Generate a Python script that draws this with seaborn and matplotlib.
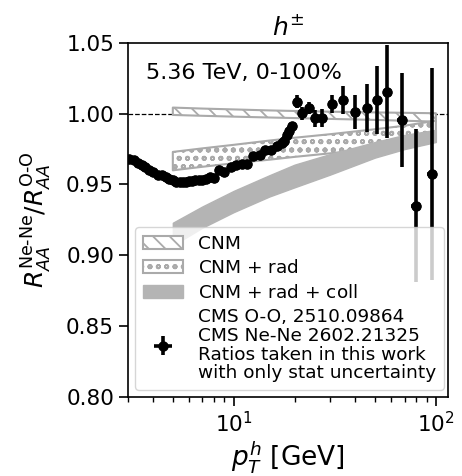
import numpy as np
import pandas as pd
import matplotlib
matplotlib.use("Agg")
import matplotlib.pyplot as plt
import seaborn as sns

# ---- data ----
pt = [3.05, 3.2, 3.35, 3.5, 3.65, 3.8, 4.0, 4.2, 4.4, 4.6, 4.8, 5.0, 5.2, 5.4, 5.6,
      5.8, 6.0, 6.2, 6.4, 6.7, 7.0, 7.3, 7.6, 8.0, 8.5, 9.0, 9.7, 10.3, 11.0, 11.6,
      12.5, 13.5, 14.3, 15.3, 16.3, 17.3, 17.8, 18.3, 18.8, 19.4,
      20.5, 21.7, 23.5, 25.3, 27.3, 30.6, 34.7, 40.0, 45.7, 51.3, 57.5, 67.8, 79.5, 95.5]
ratio = [0.968, 0.967, 0.9655, 0.964, 0.962, 0.960, 0.9585, 0.957, 0.9565, 0.9555,
         0.954, 0.953, 0.952, 0.952, 0.9515, 0.952, 0.9525, 0.9525, 0.953, 0.953,
         0.9535, 0.954, 0.955, 0.9545, 0.960, 0.959, 0.9625, 0.964, 0.9645, 0.9645,
         0.970, 0.971, 0.9745, 0.9745, 0.977, 0.979, 0.981, 0.985, 0.988, 0.991,
         1.0085, 1.0003, 1.004, 0.9968, 0.9968, 1.0069, 1.0097, 1.0015, 1.0039, 1.0097,
         1.0156, 0.9956, 0.935, 0.9575]
ratio_err = [0.001, 0.001, 0.001, 0.001, 0.001, 0.001, 0.001, 0.001, 0.001, 0.001,
             0.001, 0.001, 0.001, 0.001, 0.001, 0.001, 0.001, 0.001, 0.001, 0.001,
             0.001, 0.001, 0.001, 0.001, 0.0015, 0.0015, 0.0015, 0.0015, 0.0015, 0.0015,
             0.002, 0.002, 0.002, 0.002, 0.0025, 0.0025, 0.003, 0.003, 0.003, 0.003,
             0.0045, 0.0045, 0.0045, 0.006, 0.0065, 0.0065, 0.010, 0.012, 0.017, 0.024,
             0.033, 0.033, 0.054, 0.075]
pt_err = [0.1, 0.1, 0.1, 0.1, 0.1, 0.1, 0.1, 0.1, 0.1, 0.1, 0.1, 0.1, 0.1, 0.1, 0.1,
          0.1, 0.1, 0.1, 0.1, 0.15, 0.15, 0.15, 0.15, 0.2, 0.2, 0.2, 0.25, 0.25, 0.3, 0.3,
          0.3, 0.3, 0.3, 0.3, 0.3, 0.3, 0.3, 0.3, 0.3, 0.3,
          0.9, 0.8, 0.8, 0.9, 0.9, 1.4, 1.6, 1.8, 2.0, 2.4, 2.0, 3.5, 4.2, 5.0]

band_pt = [5.0, 7.0, 10.0, 15.0, 20.0, 30.0, 50.0, 70.0, 100.0]
cnm_lo = [0.9991, 0.9985, 0.9979, 0.9973, 0.9969, 0.9963, 0.9956, 0.9950, 0.9944]
cnm_hi = [1.0043, 1.0036, 1.0030, 1.0023, 1.0019, 1.0014, 1.0009, 1.0006, 1.0003]
rad_lo = [0.960, 0.9625, 0.9650, 0.9675, 0.9695, 0.9720, 0.9755, 0.9780, 0.9810]
rad_hi = [0.973, 0.9755, 0.9780, 0.9810, 0.9830, 0.9855, 0.9890, 0.9915, 0.9950]
coll_lo = [0.907, 0.9195, 0.9305, 0.9415, 0.9480, 0.9570, 0.9690, 0.9750, 0.9800]
coll_hi = [0.923, 0.9345, 0.9455, 0.9565, 0.9640, 0.9715, 0.9800, 0.9850, 0.9886]

band_labels = ["CNM", "CNM $+$ rad", "CNM $+$ rad $+$ coll"]
data_label = ("CMS O-O, 2510.09864\nCMS Ne-Ne 2602.21325\n"
              "Ratios taken in this work\nwith only stat uncertainty")
title = r"$h^{\pm}$"
info_text = "5.36 TeV, 0-100%"

df = pd.DataFrame({"pt": pt, "ratio": ratio})

sns.set_theme(style="ticks")
plt.rcParams["font.family"] = ["DejaVu Sans"]
plt.rcParams["hatch.linewidth"] = 1.3
for k in ["text.color", "axes.labelcolor", "xtick.color", "ytick.color", "axes.edgecolor"]:
    plt.rcParams[k] = "black"

fig = plt.figure(figsize=(4.62, 4.76), dpi=100)
ax = fig.add_axes([0.277, 0.166, 0.693, 0.744])

grey_edge = "#aaaaaa"
h1 = ax.fill_between(band_pt, cnm_lo, cnm_hi, facecolor="white", edgecolor=grey_edge,
                     hatch="\\\\", linewidth=1.5, label=band_labels[0], zorder=2)
h2 = ax.fill_between(band_pt, rad_lo, rad_hi, facecolor="white", edgecolor=grey_edge,
                     hatch="oo", linewidth=1.5, label=band_labels[1], zorder=2)
h3 = ax.fill_between(band_pt, coll_lo, coll_hi, facecolor="#b4b4b4", edgecolor="#b4b4b4",
                     linewidth=1.0, label=band_labels[2], zorder=2)

ax.axhline(1.0, color="black", ls="--", lw=0.9, zorder=1)

h4 = ax.errorbar(pt, ratio, yerr=ratio_err, xerr=pt_err, fmt="o", color="black",
                 ms=6.5, elinewidth=2.6, capsize=0, label=data_label, zorder=4)
sns.scatterplot(data=df, x="pt", y="ratio", color="black", s=42, edgecolor="black",
                ax=ax, zorder=5, legend=False)

ax.set_xscale("log")
ax.set_xlim(3.0, 115)
ax.set_ylim(0.80, 1.05)
ax.set_yticks([0.80, 0.85, 0.90, 0.95, 1.00, 1.05])
ax.set_yticklabels(["0.80", "0.85", "0.90", "0.95", "1.00", "1.05"])
ax.tick_params(axis="both", which="major", labelsize=15.5, length=6.5, width=1.2)
ax.tick_params(axis="x", which="minor", length=3.5, width=1.0)
for s in ax.spines.values():
    s.set_linewidth(1.2)

ax.set_xlabel(r"$p_T^h$ [GeV]", fontsize=19, labelpad=2)
ax.set_ylabel(r"$R_{AA}^{\mathrm{Ne\text{-}Ne}}/R_{AA}^{\mathrm{O\text{-}O}}$", fontsize=18,
              labelpad=9)
ax.set_title(title, fontsize=18, pad=6)
ax.text(0.055, 0.915, info_text, transform=ax.transAxes, fontsize=16, va="center")

leg = ax.legend(handles=[h1, h2, h3, h4], loc="lower left", fontsize=13.3,
                handlelength=2.2, borderaxespad=0.4, labelspacing=0.35)
for t in leg.get_texts():
    t.set_linespacing(1.05)

fig.savefig("out.png", dpi=100)
